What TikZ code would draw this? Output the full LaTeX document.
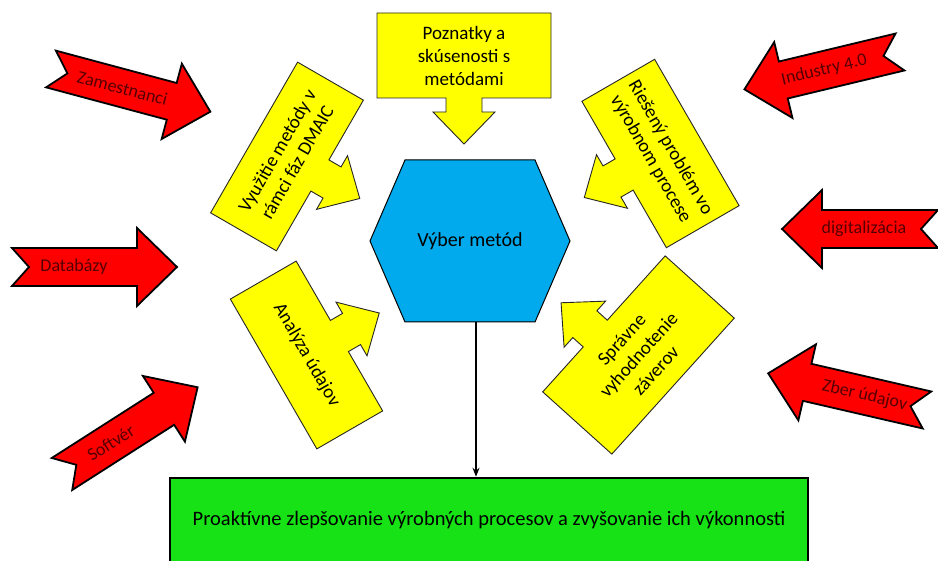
\documentclass[tikz,border=0pt]{standalone}
\usepackage{fontspec}
\setmainfont{Carlito}
\usetikzlibrary{arrows.meta}

\definecolor{arrowred}{RGB}{255,0,0}
\definecolor{boxyellow}{RGB}{255,255,0}
\definecolor{hexblue}{RGB}{0,170,236}
\definecolor{goalgreen}{RGB}{22,226,22}
\definecolor{redlabel}{RGB}{85,0,0}

\begin{document}
\begin{tikzpicture}[x=1pt,y=-1pt,
    every node/.style={font=\fontsize{19}{23}\selectfont},
    arrowshape/.style={draw=black,line width=1.8pt,fill=arrowred},
    calloutshape/.style={draw=black!85,line width=0.9pt,fill=boxyellow},
    redtext/.style={text=redlabel,font=\fontsize{18}{22}\selectfont},
    callouttext/.style={align=center},
    pics/redarrow/.style={code={
      \draw[arrowshape] (0,-19) -- ({#1-40},-19) -- ({#1-40},-39) -- (#1,0)
        -- ({#1-40},39) -- ({#1-40},19) -- (0,19) -- (17,0) -- cycle;}},
    pics/callout/.style n args={3}{code={
      \draw[calloutshape] ({-#1/2},{-#2/2}) -- ({#1/2},{-#2/2}) -- ({#1/2},{#2/2})
        -- ({#3+18},{#2/2}) -- ({#3+18},{#2/2+14}) -- ({#3+31},{#2/2+14}) -- (#3,{#2/2+46})
        -- ({#3-31},{#2/2+14}) -- ({#3-18},{#2/2+14}) -- ({#3-18},{#2/2}) -- ({-#1/2},{#2/2}) -- cycle;}}]
  \useasboundingbox (0,0) rectangle (938,561);

  % Red input arrows, left
  \begin{scope}[shift={(51,69)},rotate=-15]
    \pic[transform shape] {redarrow=165};
    \node[redtext,rotate=-15] (staff) at (74,0) {Zamestnanci};
  \end{scope}
  \begin{scope}[shift={(12,267)}]
    \pic[transform shape] {redarrow=165};
    \node[redtext] (dbase) at (62,0) {Databázy};
  \end{scope}
  \begin{scope}[shift={(62,474)},rotate=32.6]
    \pic[transform shape] {redarrow=161};
    \node[redtext,rotate=32.6] (soft) at (58,0) {Softvér};
  \end{scope}

  % Red input arrows, right
  \begin{scope}[shift={(900,52)},rotate=193.5]
    \pic[transform shape] {redarrow=160};
    \node[redtext,rotate=13.5] (ind) at (78,0) {Industry 4.0};
  \end{scope}
  \begin{scope}[shift={(938,229)},rotate=180]
    \pic[transform shape] {redarrow=156};
    \node[redtext] (digit) at (74,0) {digitalizácia};
  \end{scope}
  \begin{scope}[shift={(927,410)},rotate=167]
    \pic[transform shape] {redarrow=163};
    \node[redtext,rotate=-13] (collect) at (64,0) {Zber údajov};
  \end{scope}

  % Yellow callouts round the hexagon
  \pic at (464,55.5) {callout={174}{85}{0}};
  \node[callouttext] (know) at (464,55.5) {Poznatky a\\skúsenosti s\\metódami};
  \pic[rotate=60] at (287,156.5) {callout={174}{76}{0}};
  \node[callouttext,rotate=60] (dmaic) at (287,156.5) {Využitie metódy v\\rámci fáz DMAIC};
  \pic[rotate=-60] at (660.5,153.5) {callout={169}{84}{0}};
  \node[callouttext,rotate=-60] (solved) at (660.5,153.5) {Riešený problém vo\\výrobnom procese};
  \pic[rotate=120] at (306.5,355) {callout={173}{76}{0}};
  \node[callouttext,rotate=-60] (anal) at (306.5,355) {Analýza údajov};
  \pic[rotate=228] at (638.5,355) {callout={183}{93}{13}};
  \node[callouttext,rotate=48] (concl) at (638.5,355) {Správne\\vyhodnotenie\\záverov};

  % Hexagon
  \draw[fill=hexblue,draw=black,line width=1pt] (370,241) -- (405,160) -- (535,160)
    -- (570,241) -- (535,322) -- (405,322) -- cycle;
  \node[minimum width=200pt,minimum height=162pt,inner sep=0pt,font=\fontsize{20}{24}\selectfont] (hex) at (470,241) {Výber metód};

  % Goal box
  \node[draw=black,line width=2.5pt,fill=goalgreen,minimum width=638pt,minimum height=84pt,inner sep=0pt,
    font=\fontsize{20.5}{24}\selectfont] (goal) at (489,520)
    {Proaktívne zlepšovanie výrobných procesov a zvyšovanie ich výkonnosti};

  % Arrow down
  \draw[-{Stealth[length=9pt,width=7pt]},line width=1.6pt] ([xshift=6pt]hex.south) -- ([xshift=6pt]hex.south |- goal.north);

\end{tikzpicture}
\end{document}
